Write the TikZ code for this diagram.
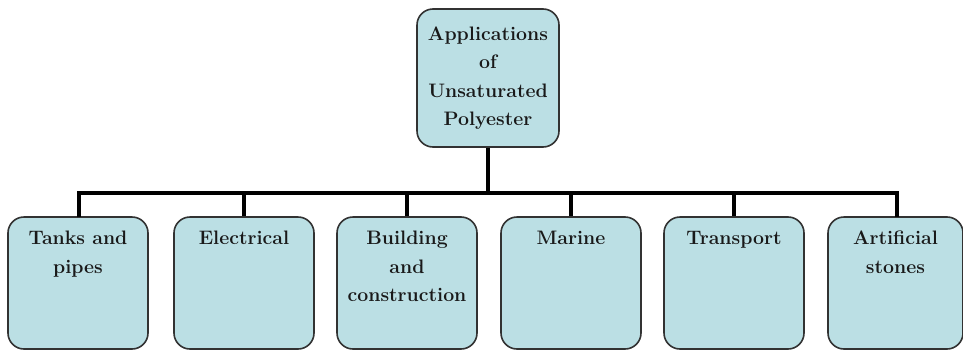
\documentclass[tikz,border=0pt]{standalone}
\definecolor{boxfill}{RGB}{187,223,228}
\definecolor{boxline}{RGB}{50,50,50}
\tikzset{
  appbox/.style={draw=boxline, line width=1.6pt, fill=boxfill, rounded corners=16pt,
    minimum width=140pt, minimum height=132pt, inner sep=0pt},
  apptext/.style={anchor=north, align=center, inner sep=0pt,
    font=\fontsize{19.5}{28.5}\selectfont\bfseries, text=black!90},
  conn/.style={line width=4pt, draw=black}
}
\begin{document}
\begin{tikzpicture}[x=1pt,y=-1pt]
\useasboundingbox (0,0) rectangle (963,351);
\node[appbox, minimum width=142pt, minimum height=138pt, align=center,
  font=\fontsize{19.5}{28.5}\selectfont\bfseries, text=black!90] (top) at (488,78)
  {Applications\\of\\Unsaturated\\Polyester};
\coordinate (bar) at (488,193);
\node[appbox] (b1) at (78,283) {};
\node[appbox] (b2) at (244,283) {};
\node[appbox] (b3) at (407,283) {};
\node[appbox] (b4) at (571,283) {};
\node[appbox] (b5) at (734,283) {};
\node[appbox, minimum width=135pt] (b6) at (895.5,283) {};
\node[apptext] (t1) at (78,231) {Tanks and\\pipes};
\node[apptext] (t2) at (244,231) {Electrical};
\node[apptext] (t3) at (407,231) {Building\\and\\construction};
\node[apptext] (t4) at (571,231) {Marine};
\node[apptext] (t5) at (734,231) {Transport};
\node[apptext] (t6) at (895.5,231) {Artificial\\stones};
\draw[conn] (top.south) -- (bar);
\coordinate (c1) at (79,217);
\coordinate (c6) at (897,217);
\draw[conn] (c1) |- (bar) -| (c6);
\foreach \b in {b2,b3,b4,b5}{
  \draw[conn] (\b.north) -- (\b.north |- bar);
}
\end{tikzpicture}
\end{document}
